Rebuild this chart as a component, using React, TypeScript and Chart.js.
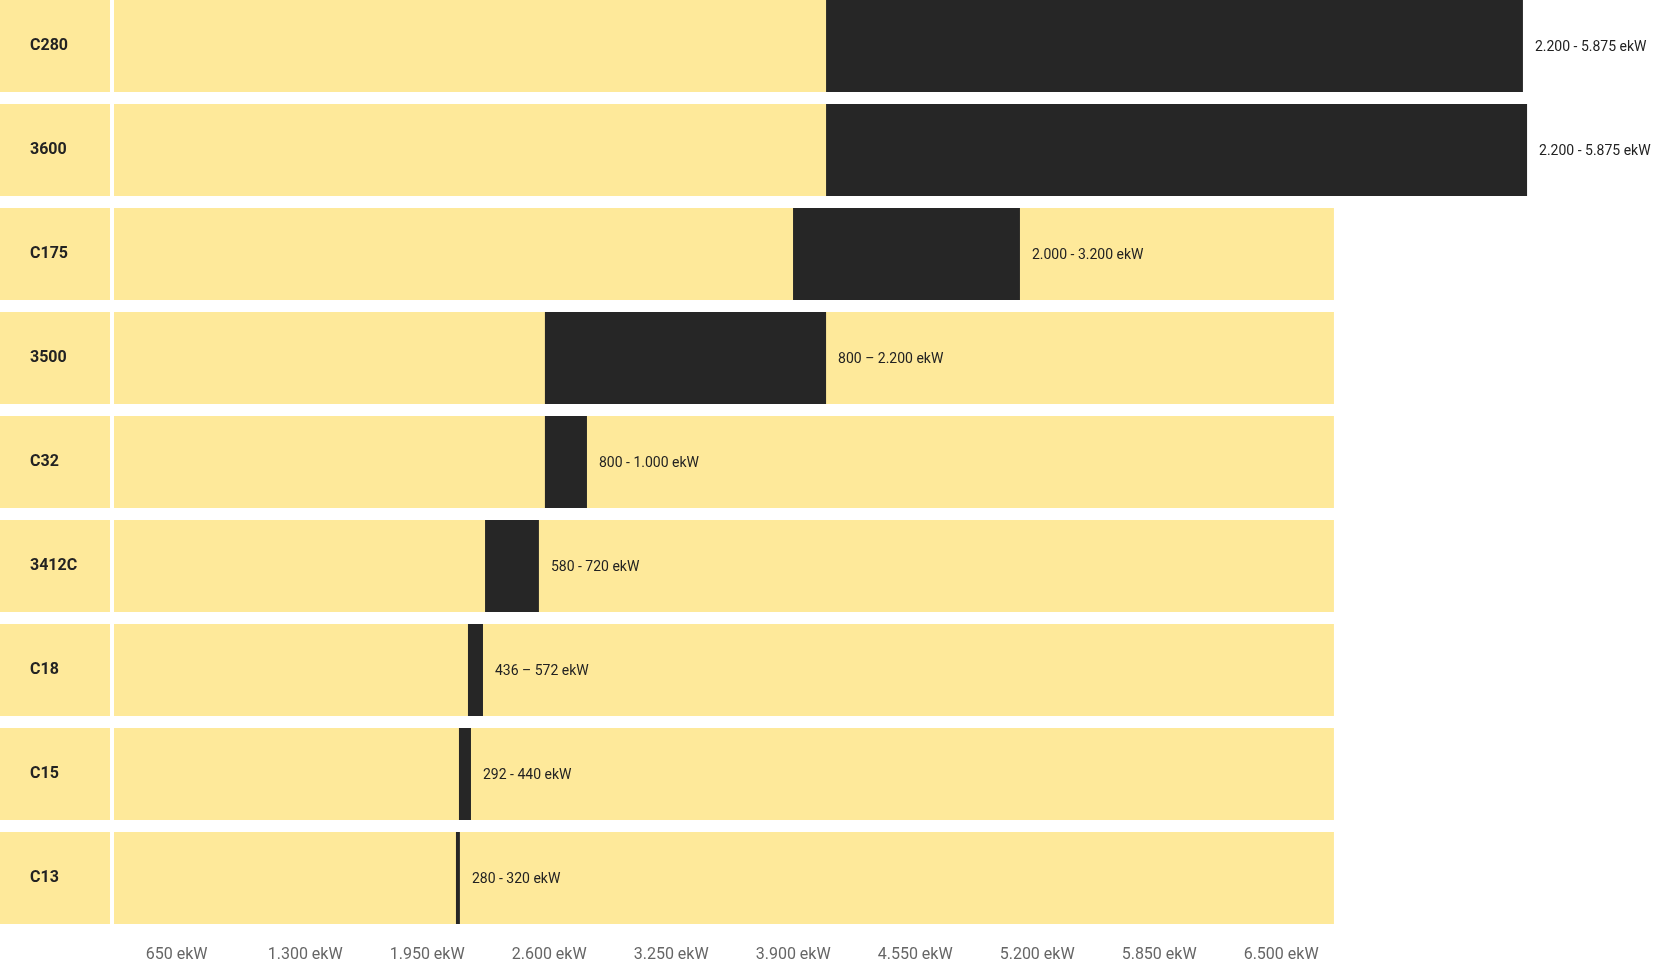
import React, { useEffect, useRef } from 'react';
import { Chart, registerables } from 'chart.js';

Chart.register(...registerables);

// ---- data ----
const models = ['C280', '3600', 'C175', '3500', 'C32', '3412C', 'C18', 'C15', 'C13'];
// black range bars in axis units
const rangeStart = [3794, 3794, 3618, 2296, 2296, 1977, 1886, 1838, 1822];
const rangeEnd = [7507, 7529, 4827, 3794, 2520, 2264, 1966, 1902, 1843];
const rangeLabels = [
  '2.200 - 5.875 ekW',
  '2.200 - 5.875 ekW',
  '2.000 - 3.200 ekW',
  '800 – 2.200 ekW',
  '800 - 1.000 ekW',
  '580 - 720 ekW',
  '436 – 572 ekW',
  '292 - 440 ekW',
  '280 - 320 ekW',
];
const backgroundRange = [0, 6500];
const axisMax = 8200;
const axisTickValues = [650, 1300, 1950, 2600, 3250, 3900, 4550, 5200, 5850, 6500];
const axisTickLabels = [
  '650 ekW', '1.300 ekW', '1.950 ekW', '2.600 ekW', '3.250 ekW',
  '3.900 ekW', '4.550 ekW', '5.200 ekW', '5.850 ekW', '6.500 ekW',
];

// ---- style ----
const YELLOW = '#FEE99A';
const DARK = '#262626';
const BAR_PCT = 92 / 104;
const LABEL_SHIFT = -481;

const labelCellsPlugin = {
  id: 'labelCells',
  beforeDraw(chart: any) {
    const { ctx, chartArea } = chart;
    const y = chart.scales.y;
    const step = y.getPixelForValue(1) - y.getPixelForValue(0);
    const half = (step * BAR_PCT) / 2;
    ctx.save();
    ctx.fillStyle = YELLOW;
    models.forEach((_, i) => {
      const c = y.getPixelForValue(i);
      ctx.fillRect(0, c - half, chartArea.left - 4, half * 2);
    });
    ctx.restore();
  },
};

const rangeLabelPlugin = {
  id: 'rangeLabels',
  afterDatasetsDraw(chart: any) {
    const { ctx } = chart;
    const meta = chart.getDatasetMeta(0);
    ctx.save();
    ctx.font = '14px Roboto';
    ctx.fillStyle = '#222222';
    ctx.textAlign = 'left';
    ctx.textBaseline = 'middle';
    meta.data.forEach((bar: any, i: number) => {
      const right = Math.max(bar.x, bar.base);
      ctx.fillText(rangeLabels[i], right + 12, bar.y + 1.5);
    });
    ctx.restore();
  },
};

function RangeChart() {
  const ref = useRef<HTMLCanvasElement | null>(null);
  useEffect(() => {
    if (!ref.current) return;
    const chart = new Chart(ref.current, {
      type: 'bar',
      data: {
        labels: models,
        datasets: [
          {
            label: 'Range',
            data: models.map((_, i) => [rangeStart[i], rangeEnd[i]]) as any,
            backgroundColor: DARK,
            order: 0,
          },
          {
            label: 'Background',
            data: models.map(() => [backgroundRange[0], backgroundRange[1]]) as any,
            backgroundColor: YELLOW,
            order: 1,
          },
        ],
      },
      options: {
        indexAxis: 'y',
        animation: false,
        responsive: true,
        maintainAspectRatio: false,
        layout: { padding: { left: 30, right: 0, top: 0, bottom: 0 } },
        datasets: {
          bar: {
            grouped: false,
            categoryPercentage: 1,
            barPercentage: BAR_PCT,
            borderWidth: 0,
            borderSkipped: false,
          },
        } as any,
        plugins: {
          legend: { display: false },
          tooltip: { enabled: false },
        },
        scales: {
          x: {
            type: 'linear',
            min: 0,
            max: axisMax,
            grid: { display: false },
            border: { display: false },
            afterBuildTicks(scale: any) {
              scale.ticks = axisTickValues.map((v) => ({ value: v + LABEL_SHIFT }));
            },
            afterFit(scale: any) {
              scale.height = 38;
              scale.paddingLeft = 0;
              scale.paddingRight = 0;
            },
            ticks: {
              autoSkip: false,
              maxRotation: 0,
              minRotation: 0,
              align: 'start',
              padding: 7,
              color: '#666666',
              font: { family: 'Roboto', size: 16 },
              callback: (_v: any, index: number) => axisTickLabels[index],
            },
          },
          y: {
            type: 'category',
            grid: { display: false },
            border: { display: false },
            afterFit(scale: any) {
              scale.width = 84;
              scale.paddingTop = 0;
              scale.paddingBottom = 0;
            },
            ticks: {
              crossAlign: 'far',
              color: '#222222',
              font: { family: 'Roboto', size: 16, weight: 'bold' },
            },
          },
        },
      },
      plugins: [labelCellsPlugin, rangeLabelPlugin],
    });
    return () => chart.destroy();
  }, []);

  return (
    <div style={{ position: 'fixed', left: 0, top: -6, width: 1653, height: 974, background: '#ffffff' }}>
      <canvas ref={ref} />
    </div>
  );
}

export default function App() {
  return <RangeChart />;
}
